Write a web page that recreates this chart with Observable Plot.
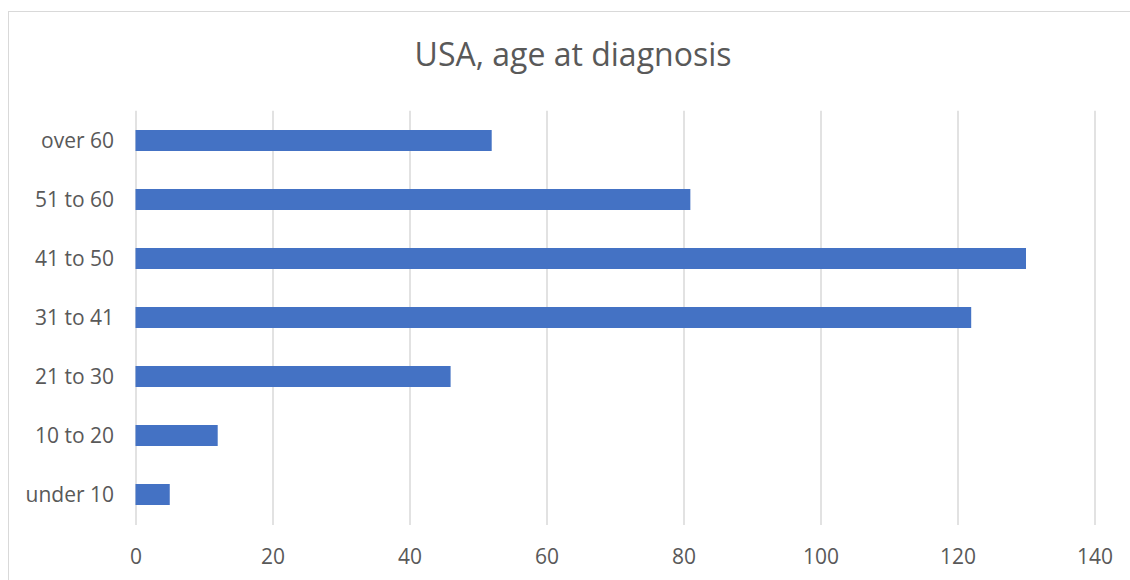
<!DOCTYPE html>
<html>
<head>
<meta charset="utf-8">
<script src="https://cdn.jsdelivr.net/npm/d3@7"></script>
<script src="https://cdn.jsdelivr.net/npm/@observablehq/plot@0.6"></script>
<style>
  html, body { margin: 0; padding: 0; background: #fff; }
  body { width: 1130px; height: 580px; position: relative; overflow: hidden; font-family: "Open Sans", sans-serif; }
  #frame { position: absolute; left: 8px; top: 11px; width: 1200px; height: 700px;
           border-left: 1.5px solid #d9d9d9; border-top: 1.5px solid #d9d9d9; }
  #title { position: absolute; left: 8px; top: 37.5px; width: 1130px; text-align: center;
           font-size: 32px; color: #595959; line-height: 1; white-space: nowrap; }
  #chart { position: absolute; left: 0; top: 0; }
</style>
</head>
<body>
<div id="frame"></div>
<div id="title">USA, age at diagnosis</div>
<div id="chart"></div>
<script>
const categories = ["over 60", "51 to 60", "41 to 50", "31 to 41", "21 to 30", "10 to 20", "under 10"];
const counts = [52, 81, 130, 122, 46, 12, 5];
const xTicks = [0, 20, 40, 60, 80, 100, 120, 140];

const data = categories.map((c, i) => ({category: c, value: counts[i]}));

const chart = Plot.plot({
  width: 1130,
  height: 580,
  marginLeft: 135.5,
  marginRight: 35.5,
  marginTop: 110.7,
  marginBottom: 55,
  style: {fontFamily: "Open Sans, sans-serif", fontSize: "21px", color: "#595959", background: "transparent"},
  x: {domain: [0, 140], ticks: xTicks, label: null},
  y: {domain: categories, label: null, paddingInner: 0.64, paddingOuter: 0.32},
  marks: [
    Plot.ruleX(xTicks, {stroke: "#d9d9d9", strokeWidth: 1.5}),
    Plot.barX(data, {y: "category", x: "value", fill: "#4472C4"}),
    Plot.axisX({ticks: xTicks, tickSize: 0, tickPadding: 24, fontSize: 21, fill: "#595959", label: null}),
    Plot.axisY({tickSize: 0, tickPadding: 22, fontSize: 21, fill: "#595959", label: null})
  ]
});
document.getElementById("chart").appendChild(chart);
</script>
</body>
</html>
